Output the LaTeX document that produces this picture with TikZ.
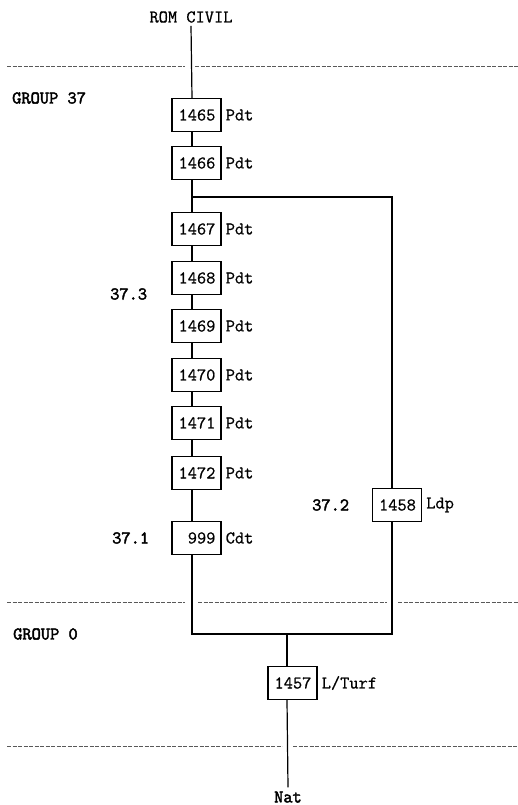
\documentclass[tikz,border=0pt]{standalone}
\usepackage{fontspec}
\newfontfamily\rfont{Latin Modern Mono}[AutoFakeBold=0.8]
\newfontfamily\bfont{Latin Modern Mono}[AutoFakeBold=2.4]
\newcommand\dgfont{\fontsize{17.9}{20}\rfont\bfseries}
\newcommand\dgbfont{\fontsize{17.9}{20}\bfont\bfseries}
\newcommand\bx[1]{\makebox[37.8pt][r]{#1}}
\begin{document}
\begin{tikzpicture}[x=1pt,y=-1pt,
  every node/.style={font=\dgfont},
  box/.style={draw,line width=1.1pt,minimum width=49pt,minimum height=33pt,inner sep=0pt},
  lbl/.style={anchor=west,inner sep=0pt,xshift=4pt},
  grp/.style={anchor=west,inner sep=0pt,font=\dgbfont},
  wire/.style={line width=1.2pt},
  sep/.style={line width=0.9pt,dash pattern=on 4pt off 1.5pt,black!65}]
\path[use as bounding box] (0,0) rectangle (518,805);

% separators
\draw[sep] (7,66) -- (185,66);
\draw[sep] (195,66) -- (518,66);
\draw[sep] (7,602) -- (185,602);
\draw[sep] (198,602) -- (387,602);
\draw[sep] (398,602) -- (518,602);
\draw[sep] (7,746) -- (282,746);
\draw[sep] (293,746) -- (518,746);

% group labels
\node[grp] (g37) at (12,98) {GROUP 37};
\node[grp] (g0) at (13,634) {GROUP 0};
\node[grp] (s373) at (110,294) {37.3};
\node[grp] (s372) at (312,505) {37.2};
\node[grp] (s371) at (112,538) {37.1};

% terminals
\node[inner sep=0pt] (rom) at (191,17) {ROM CIVIL};
\node[inner sep=0pt,font=\dgbfont] (nat) at (288,797) {Nat};

% boxes
\foreach \n/\y in {1465/115,1466/163,1467/229,1468/278,1469/326,1470/375,1471/423,1472/473}{
  \node[box] (b\n) at (196.5,\y) {\bx{\n}};
  \node[lbl] (l\n) at (b\n.east) {Pdt};
}
\node[box] (b999) at (196.5,538) {\bx{999}};
\node[lbl] (l999) at (b999.east) {Cdt};
\node[box] (b1458) at (397,505) {\bx{1458}};
\node[lbl] (l1458) at (b1458.east) {Ldp};
\node[box] (b1457) at (292.5,683) {\bx{1457}};
\node[lbl] (l1457) at (b1457.east) {L/Turf};

% connectors
\draw[wire] ([yshift=-3pt]rom.south) -- ([xshift=-4.5pt]b1465.north);
\foreach \a/\b in {1465/1466,1466/1467,1467/1468,1468/1469,1469/1470,1470/1471,1471/1472,1472/999}{
  \draw[wire] ([xshift=-4.5pt]b\a.south) -- ([xshift=-4.5pt]b\b.north);
}
\coordinate (jl) at (192,634);
\coordinate (jr) at (392,634);
\coordinate (jm) at (287,634);
\coordinate (bt) at (392,197);
\coordinate (bl) at (192,197);
\draw[wire] ([xshift=-4.5pt]b999.south) -- (jl) -- (jr) -- ([xshift=-5pt]b1458.south);
\draw[wire] ([xshift=-5pt]b1458.north) -- (bt) -- (bl);
\draw[wire] (jm) -- ([xshift=-5.5pt]b1457.north);
\draw[wire] ([xshift=-5.5pt]b1457.south) -- ([yshift=4pt]nat.north);
\end{tikzpicture}
\end{document}
